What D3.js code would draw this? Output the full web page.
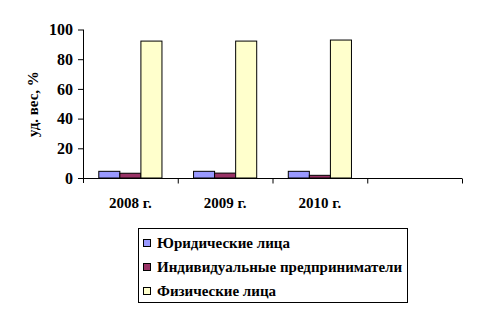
<!DOCTYPE html>
<html>
<head>
<meta charset="utf-8">
<script src="https://cdn.jsdelivr.net/npm/d3@7"></script>
<style>
  body { margin: 0; background: #fff; }
</style>
</head>
<body>
<svg id="chart" width="477" height="311"></svg>
<script>
// данные
var years = ['2008 г.', '2009 г.', '2010 г.', ''];
var seriesNames = ['Юридические лица', 'Индивидуальные предприниматели', 'Физические лица'];
var yurLitsa = [4.5, 4.5, 4.5];
var ipValues = [3.2, 3.3, 1.8];
var fizLitsa = [92.2, 92.2, 92.9];
var yTicks = [0, 20, 40, 60, 80, 100];
var colors = ['#9999ff', '#993366', '#ffffcc'];

var FONT = "'Liberation Serif'";
function serif(sel, size) {
    return sel.style('font-family', FONT).style('font-weight', 'bold')
        .style('font-size', size + 'px').attr('fill', '#000');
}

var svg = d3.select('#chart');
var plotLeft = 83, plotRight = 462, plotTop = 29.5, plotBottom = 178;

var x = d3.scaleBand().domain(years).range([plotLeft, plotRight]).paddingInner(0).paddingOuter(0);
var bw = x.bandwidth() / 4.5;
var y = d3.scaleLinear().domain([0, 100]).range([plotBottom, plotTop]);

// оси
var yAxis = svg.append('g').attr('transform', 'translate(' + plotLeft + ',0)')
    .call(d3.axisLeft(y).tickValues(yTicks).tickSize(5).tickSizeOuter(0).tickPadding(5));
yAxis.select('.domain').attr('stroke', '#000').attr('d', 'M0.5,' + plotTop + 'V' + (plotBottom + 5));
serif(yAxis.selectAll('text'), 16);

var xAxis = svg.append('g').attr('transform', 'translate(0,' + (plotBottom + 0.5) + ')');
xAxis.append('line').attr('x1', plotLeft).attr('x2', plotRight).attr('y1', 0).attr('y2', 0).attr('stroke', '#000');
var ticksX = years.map(function (d) { return x(d); }).concat([plotRight]);
xAxis.selectAll('.tk').data(ticksX.slice(1)).enter().append('line')
    .attr('x1', function (d) { return d + 0.5; }).attr('x2', function (d) { return d + 0.5; })
    .attr('y1', 0).attr('y2', 5).attr('stroke', '#000');
serif(xAxis.selectAll('.lbl').data(years).enter().append('text')
    .attr('x', function (d) { return x(d) + x.bandwidth() / 2; })
    .attr('y', 29)
    .attr('text-anchor', 'middle')
    .text(function (d) { return d; }), 15);

// подпись оси
serif(svg.append('text')
    .attr('transform', 'translate(38,104) rotate(-90)')
    .attr('text-anchor', 'middle')
    .text('уд. вес, %'), 15);

// столбцы
var allSeries = [yurLitsa, ipValues, fizLitsa];
allSeries.forEach(function (vals, s) {
    svg.append('g').selectAll('rect').data(vals).enter().append('rect')
        .attr('x', function (d, i) { return x(years[i]) + bw * 0.75 + s * bw; })
        .attr('y', function (d) { return y(d); })
        .attr('width', bw)
        .attr('height', function (d) { return plotBottom - y(d); })
        .attr('fill', colors[s])
        .attr('stroke', '#000')
        .attr('stroke-width', 1);
});

// легенда
var legend = svg.append('g');
legend.append('rect').attr('x', 138.5).attr('y', 228.5).attr('width', 269).attr('height', 74)
    .attr('fill', '#fff').attr('stroke', '#000');
seriesNames.forEach(function (name, i) {
    var cy = 243 + i * 24;
    legend.append('rect').attr('x', 143.5).attr('y', cy - 3.5).attr('width', 7).attr('height', 7)
        .attr('fill', colors[i]).attr('stroke', '#000');
    serif(legend.append('text').attr('x', 157).attr('y', cy + 5).text(name), 15);
});
</script>
</body>
</html>
